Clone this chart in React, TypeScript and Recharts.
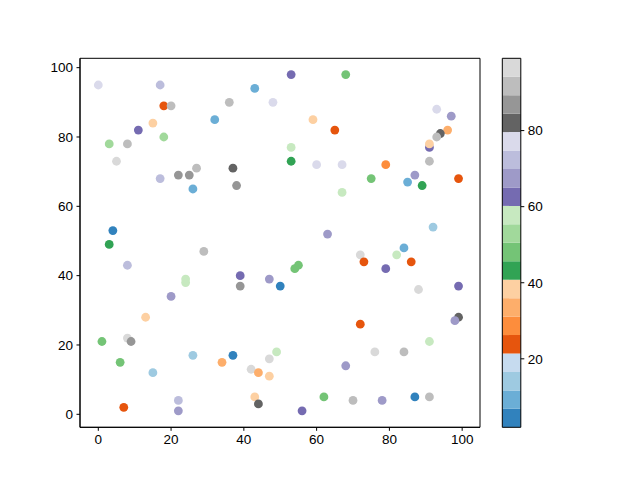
import { ScatterChart, Scatter, XAxis, YAxis, ReferenceArea, ComposedChart } from "recharts";

// point positions
const xs = [0, 17, 18, 20, 43, 48, 36, 32, 15, 11, 18, 3, 8, 5, 17, 22, 25, 27, 37, 38, 26, 53, 68, 59, 65, 53, 53, 60, 67, 79, 75, 87, 85, 89, 99, 93, 97, 96, 94, 93, 91, 91, 91, 4, 3, 8, 29, 24, 24, 39, 39, 47, 50, 20, 67, 63, 92, 84, 82, 86, 72, 73, 79, 55, 54, 88, 99, 13, 1, 8, 9, 6, 15, 26, 34, 37, 42, 44, 47, 47, 49, 43, 44, 7, 22, 22, 72, 99, 98, 91, 76, 84, 68, 62, 70, 78, 87, 91, 56];
const ys = [95, 95, 89, 89, 94, 90, 90, 85, 84, 82, 80, 78, 78, 73, 68, 69, 69, 71, 71, 66, 65, 98, 98, 85, 82, 77, 73, 72, 72, 72, 68, 69, 67, 66, 68, 88, 86, 82, 81, 80, 77, 78, 73, 53, 49, 43, 47, 39, 38, 40, 37, 39, 37, 34, 64, 52, 54, 48, 46, 44, 46, 44, 42, 43, 42, 36, 37, 28, 21, 22, 21, 15, 12, 17, 15, 17, 13, 12, 11, 16, 18, 5, 3, 2, 4, 1, 26, 28, 27, 21, 18, 18, 14, 5, 4, 4, 5, 5, 1];
// colour values
const cs = [77, 72, 24, 92, 9, 77, 92, 9, 38, 63, 53, 53, 92, 96, 72, 87, 87, 92, 82, 87, 9, 63, 48, 38, 24, 58, 43, 77, 77, 28, 48, 67, 9, 43, 24, 77, 67, 33, 82, 92, 63, 38, 92, 4, 43, 72, 92, 58, 58, 63, 87, 67, 4, 67, 58, 67, 14, 9, 58, 24, 96, 24, 63, 48, 48, 96, 63, 38, 48, 96, 87, 48, 14, 14, 33, 4, 96, 33, 38, 96, 58, 38, 82, 24, 72, 67, 24, 82, 67, 58, 96, 92, 67, 48, 92, 67, 4, 92, 63];

const axisTicks = [0, 20, 40, 60, 80, 100];
const barTicks = [20, 40, 60, 80];
const cMin = 2;
const cMax = 99;

const tab20c = [
  "#3182bd", "#6baed6", "#9ecae1", "#c6dbef",
  "#e6550d", "#fd8d3c", "#fdae6b", "#fdd0a2",
  "#31a354", "#74c476", "#a1d99b", "#c7e9c0",
  "#756bb1", "#9e9ac8", "#bcbddc", "#dadaeb",
  "#636363", "#969696", "#bdbdbd", "#d9d9d9",
];

const colorOf = (c: number) => {
  const k = Math.floor(((c - cMin) / (cMax - cMin)) * 20);
  return tab20c[Math.max(0, Math.min(19, k))];
};

const points = xs.map((x, i) => ({ x, y: ys[i], c: cs[i] }));
const bins = tab20c.map((color, i) => ({
  lo: cMin + ((cMax - cMin) * i) / 20,
  hi: cMin + ((cMax - cMin) * (i + 1)) / 20,
  color,
}));

const font = "'Liberation Sans', Arial, sans-serif";
const tick = { fill: "#000", fontSize: 13.5, fontFamily: font };
const xDom: [number, number] = [-5.03, 104.9];
const yDom: [number, number] = [-3.75, 102.7];

export default function App() {
  return (
    <div style={{ position: "absolute", left: 0, top: 0, width: 640, height: 480, background: "#fff" }}>
      <div style={{ position: "absolute", left: 0, top: 0 }}>
        <ScatterChart width={500} height={480} margin={{ top: 58.3, right: 20, bottom: 22.7, left: 0 }}>
          <XAxis
            type="number"
            dataKey="x"
            domain={xDom}
            ticks={axisTicks}
            allowDataOverflow
            height={30}
            tick={tick}
            tickSize={3.5}
            tickMargin={3.5}
            stroke="#000"
          />
          <YAxis
            type="number"
            dataKey="y"
            domain={yDom}
            ticks={axisTicks}
            allowDataOverflow
            width={80}
            tick={tick}
            tickSize={3.5}
            tickMargin={3.5}
            stroke="#000"
          />
          <Scatter
            data={points}
            isAnimationActive={false}
            shape={(p: any) => <circle cx={p.cx} cy={p.cy} r={4.4} fill={colorOf(p.payload.c)} />}
          />
          <ReferenceArea x1={xDom[0]} x2={xDom[1]} y1={yDom[0]} y2={yDom[1]} fill="none" stroke="#000" strokeWidth={1} />
        </ScatterChart>
      </div>
      <div style={{ position: "absolute", left: 490, top: 0 }}>
        <ComposedChart width={150} height={480} data={[{ k: 0 }]} margin={{ top: 58.3, right: 59.2, bottom: 52.7, left: 12.3 }}>
          <XAxis dataKey="k" hide />
          <YAxis
            type="number"
            orientation="right"
            domain={[cMin, cMax]}
            ticks={barTicks}
            allowDataOverflow
            width={60}
            axisLine={false}
            tick={tick}
            tickSize={3.5}
            tickMargin={3.5}
            stroke="#000"
          />
          {bins.map((b) => (
            <ReferenceArea key={b.lo} y1={b.lo} y2={b.hi} fill={b.color} fillOpacity={1} stroke="none" />
          ))}
          <ReferenceArea y1={cMin} y2={cMax} fill="none" stroke="#000" strokeWidth={1} />
        </ComposedChart>
      </div>
    </div>
  );
}
